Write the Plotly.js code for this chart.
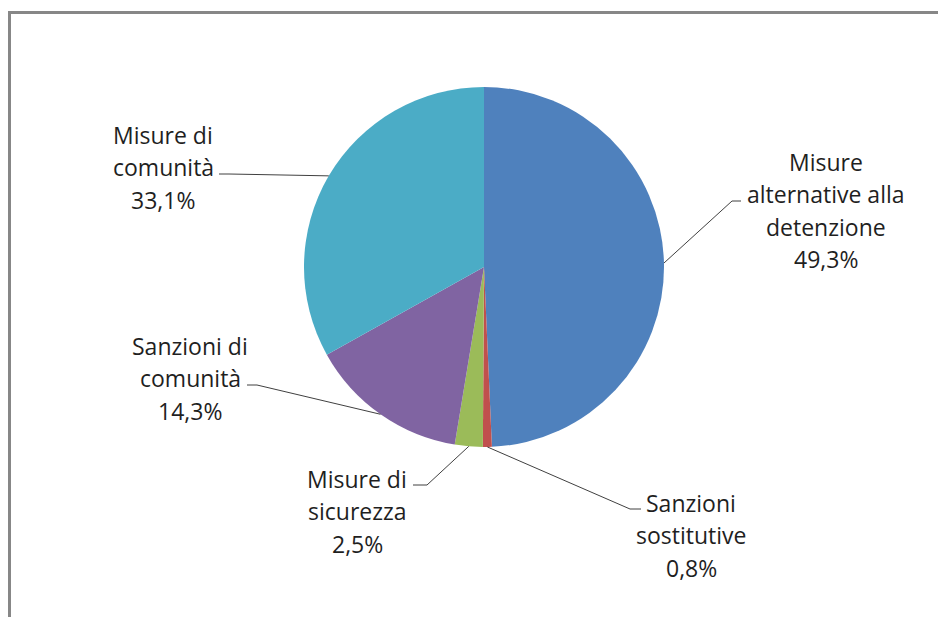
<!DOCTYPE html>
<html>
<head>
<meta charset="utf-8">
<script src="https://cdn.plot.ly/plotly-3.0.1.min.js"></script>
<style>
  html, body { margin: 0; padding: 0; background: #ffffff; }
  #chart { width: 938px; height: 617px; }
</style>
</head>
<body>
<div id="chart"></div>
<script>
// ---- data ----
var categories = [
  "Misure alternative alla detenzione",
  "Sanzioni sostitutive",
  "Misure di sicurezza",
  "Sanzioni di comunità",
  "Misure di comunità"
];
var labelLines = [
  ["Misure", "alternative alla", "detenzione"],
  ["Sanzioni", "sostitutive"],
  ["Misure di", "sicurezza"],
  ["Sanzioni di", "comunità"],
  ["Misure di", "comunità"]
];
var values = [49.3, 0.8, 2.5, 14.3, 33.1];
var colors = ["#4F81BD", "#C0504D", "#9BBB59", "#8064A2", "#4BACC6"];

// ---- layout geometry (pixels) ----
var W = 938, H = 617;
var CX = 484, CY = 267, R = 180;
// per label: [text centre x, first line centre y, elbow x, elbow y, line end x]
var labelLayout = [
  [826, 162, 732, 201, 741],
  [691, 503, 630, 509, 641],
  [357, 479, 427, 485, 413],
  [190, 346, 257, 385, 247],
  [163, 135, 229, 174, 219]
];
var LINE_PITCH = 32.3;
var FONT = {family: "'Open Sans', 'Noto Sans', sans-serif", size: 23, color: "#1f1f1f"};

function px(x) { return x / W; }
function py(y) { return 1 - y / H; }

var total = values.reduce(function (a, b) { return a + b; }, 0);

var trace = {
  type: "pie",
  labels: categories,
  values: values,
  sort: false,
  direction: "clockwise",
  rotation: 0,
  textinfo: "none",
  hoverinfo: "label+percent",
  marker: {colors: colors, line: {width: 0}},
  domain: {x: [px(CX - R), px(CX + R)], y: [py(CY + R), py(CY - R)]},
  showlegend: false
};

var shapes = [
  {type: "line", xref: "paper", yref: "paper", x0: px(9.5), x1: px(9.5), y0: py(11), y1: py(H + 2),
   line: {color: "#878787", width: 3}},
  {type: "line", xref: "paper", yref: "paper", x0: px(8), x1: px(W + 2), y0: py(12.5), y1: py(12.5),
   line: {color: "#878787", width: 3}}
];
var annotations = [];

var cum = 0;
for (var i = 0; i < values.length; i++) {
  var mid = 2 * Math.PI * (cum + values[i] / 2) / total;
  cum += values[i];
  var ex = CX + R * Math.sin(mid);
  var ey = CY - R * Math.cos(mid);
  var L = labelLayout[i];
  shapes.push({
    type: "path", xref: "paper", yref: "paper",
    path: "M " + px(ex) + "," + py(ey) + " L " + px(L[2]) + "," + py(L[3]) + " L " + px(L[4]) + "," + py(L[3]),
    line: {color: "#404040", width: 1}
  });
  var lines = labelLines[i].concat([values[i].toFixed(1).replace(".", ",") + "%"]);
  for (var j = 0; j < lines.length; j++) {
    annotations.push({
      xref: "paper", yref: "paper",
      x: px(L[0]), y: py(L[1] + j * LINE_PITCH),
      xanchor: "center", yanchor: "middle",
      text: lines[j], showarrow: false, font: FONT
    });
  }
}

var layout = {
  width: W, height: H,
  margin: {l: 0, r: 0, t: 0, b: 0},
  paper_bgcolor: "#ffffff",
  plot_bgcolor: "#ffffff",
  shapes: shapes,
  annotations: annotations,
  showlegend: false
};

Plotly.newPlot("chart", [trace], layout, {displayModeBar: false, staticPlot: true});
</script>
</body>
</html>
